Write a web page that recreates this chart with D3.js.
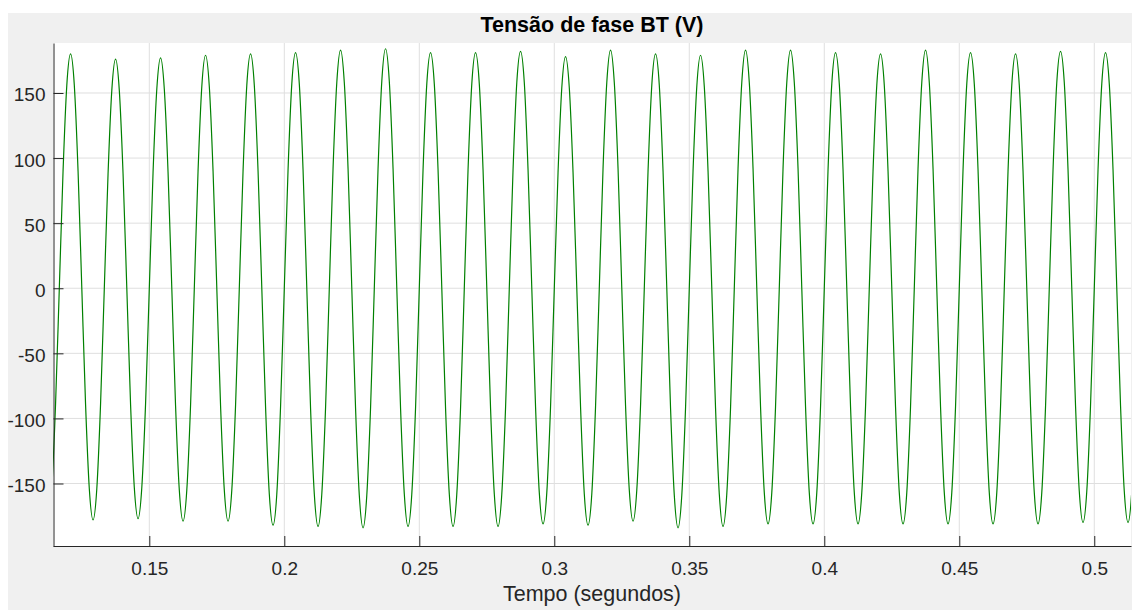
<!DOCTYPE html>
<html>
<head>
<meta charset="utf-8">
<script src="https://cdn.jsdelivr.net/npm/d3@7"></script>
<style>
  html, body { margin: 0; padding: 0; background: #ffffff; }
  svg { display: block; font-family: "Liberation Sans", Arial, Helvetica, sans-serif; }
</style>
</head>
<body>
<svg id="chart" width="1132" height="610"></svg>
<script>
// Scope trace: low-voltage phase voltage, 60 Hz
const chartTitle = "Tensão de fase BT (V)";
const xAxisLabel = "Tempo (segundos)";

const xTickValues = [0.15, 0.2, 0.25, 0.3, 0.35, 0.4, 0.45, 0.5];
const xTickLabels = ["0.15", "0.2", "0.25", "0.3", "0.35", "0.4", "0.45", "0.5"];
const yTickValues = [-150, -100, -50, 0, 50, 100, 150];
const yTickLabels = ["-150", "-100", "-50", "0", "50", "100", "150"];

const xDomain = [0.11433, 0.5136];
const yDomain = [-198, 188.4];

// sampling of the trace: first sample time and step (s)
const sampleStart = 0.1;
const sampleStep = 1 / 720;

// voltage samples (V), one row per 60 Hz cycle
const voltage = [
  0, 89, 154, 178, 154, 89, 0, -89, -153, -177, -153, -89,
  0, 90, 156, 180, 156, 90, 0, -89, -154, -178, -154, -89,
  0, 88, 152, 176, 152, 88, 0, -89, -153, -177, -153, -89,
  0, 89, 153, 177, 153, 89, 0, -90, -155, -179, -155, -90,
  0, 90, 155, 179, 155, 90, 0, -90, -155, -179, -155, -90,
  0, 90, 156, 180, 156, 90, 0, -91, -158, -182, -158, -91,
  0, 91, 157, 181, 157, 91, 0, -92, -158, -183, -158, -92,
  0, 92, 158, 183, 158, 92, 0, -92, -159, -184, -159, -92,
  0, 92, 159, 184, 159, 92, 0, -92, -158, -183, -158, -92,
  0, 91, 157, 181, 157, 91, 0, -92, -158, -183, -158, -92,
  0, 91, 157, 181, 157, 91, 0, -92, -158, -183, -158, -92,
  0, 91, 158, 182, 158, 91, 0, -91, -157, -181, -157, -91,
  0, 89, 154, 178, 154, 89, 0, -91, -158, -182, -158, -91,
  0, 92, 158, 183, 158, 92, 0, -90, -155, -179, -155, -90,
  0, 90, 156, 180, 156, 90, 0, -92, -159, -184, -159, -92,
  0, 90, 155, 179, 155, 90, 0, -92, -158, -183, -158, -92,
  0, 92, 158, 183, 158, 92, 0, -91, -157, -181, -157, -91,
  0, 92, 158, 183, 158, 92, 0, -91, -157, -181, -157, -91,
  0, 91, 157, 181, 157, 91, 0, -91, -157, -181, -157, -91,
  0, 90, 156, 180, 156, 90, 0, -91, -157, -181, -157, -91,
  0, 92, 158, 183, 158, 92, 0, -91, -157, -181, -157, -91,
  0, 91, 157, 181, 157, 91, 0, -91, -157, -181, -157, -91,
  0, 90, 156, 180, 156, 90, 0, -91, -157, -181, -157, -91,
  0, 91, 158, 182, 158, 91, 0, -90, -156, -180, -156, -90,
  0, 91, 157, 181, 157, 91, 0, -90, -156, -180, -156, -90,
  0, 90, 156, 180, 156, 90, 0, -90, -155, -179, -155, -90
];

const width = 1132, height = 610;
const plot = { left: 53, top: 43, right: 1131, bottom: 546 };

const svg = d3.select("#chart");

// figure background
svg.append("rect")
  .attr("x", 8).attr("y", 13)
  .attr("width", width - 8).attr("height", height - 13)
  .attr("fill", "#f0f0f0");

// axes background
svg.append("rect")
  .attr("x", plot.left).attr("y", plot.top)
  .attr("width", plot.right - plot.left).attr("height", plot.bottom - plot.top)
  .attr("fill", "#ffffff");

const x = d3.scaleLinear().domain(xDomain).range([plot.left, plot.right]);
const y = d3.scaleLinear().domain(yDomain).range([plot.bottom, plot.top]);

// grid
const grid = svg.append("g").attr("stroke", "#dfdfdf").attr("stroke-width", 1);
grid.selectAll("line.vx").data(xTickValues).join("line")
  .attr("x1", d => x(d)).attr("x2", d => x(d))
  .attr("y1", plot.top).attr("y2", plot.bottom);
grid.selectAll("line.hy").data(yTickValues).join("line")
  .attr("x1", plot.left).attr("x2", plot.right)
  .attr("y1", d => y(d)).attr("y2", d => y(d));

// trace
svg.append("clipPath").attr("id", "plotClip")
  .append("rect")
  .attr("x", plot.left).attr("y", plot.top)
  .attr("width", plot.right - plot.left).attr("height", plot.bottom - plot.top);

const line = d3.line()
  .x((d, i) => x(sampleStart + i * sampleStep))
  .y(d => y(d))
  .curve(d3.curveMonotoneX);

svg.append("path")
  .datum(voltage)
  .attr("clip-path", "url(#plotClip)")
  .attr("fill", "none")
  .attr("stroke", "#008000")
  .attr("stroke-width", 1.2)
  .attr("d", line);

// x axis (ticks pointing inward)
const xAxis = d3.axisBottom(x)
  .tickValues(xTickValues)
  .tickFormat((d, i) => xTickLabels[i])
  .tickSizeInner(-10)
  .tickSizeOuter(0)
  .tickPadding(16);

const gx = svg.append("g")
  .attr("transform", `translate(0,${plot.bottom})`)
  .call(xAxis);
gx.select(".domain").attr("stroke", "#262626").attr("stroke-width", 1);
gx.selectAll(".tick line").attr("stroke", "#262626");
gx.selectAll(".tick text")
  .attr("fill", "#262626")
  .attr("font-size", 19)
  .attr("font-family", "Liberation Sans, Arial, sans-serif");

// y axis (ticks pointing inward)
const yAxis = d3.axisLeft(y)
  .tickValues(yTickValues)
  .tickFormat((d, i) => yTickLabels[i])
  .tickSizeInner(-10)
  .tickSizeOuter(0)
  .tickPadding(8);

const gy = svg.append("g")
  .attr("transform", `translate(${plot.left + 0.5},0)`)
  .call(yAxis);
gy.select(".domain").attr("stroke", "#262626").attr("stroke-width", 1);
gy.selectAll(".tick line").attr("stroke", "#262626");
gy.selectAll(".tick text")
  .attr("fill", "#262626")
  .attr("font-size", 19)
  .attr("dy", "0.42em")
  .attr("font-family", "Liberation Sans, Arial, sans-serif");

// title
svg.append("text")
  .attr("x", (plot.left + plot.right) / 2)
  .attr("y", 32)
  .attr("text-anchor", "middle")
  .attr("font-size", 21.5)
  .attr("font-weight", "bold")
  .attr("fill", "#000000")
  .text(chartTitle);

// x axis label
svg.append("text")
  .attr("x", (plot.left + plot.right) / 2)
  .attr("y", 601)
  .attr("text-anchor", "middle")
  .attr("font-size", 21.5)
  .attr("fill", "#262626")
  .text(xAxisLabel);
</script>
</body>
</html>
